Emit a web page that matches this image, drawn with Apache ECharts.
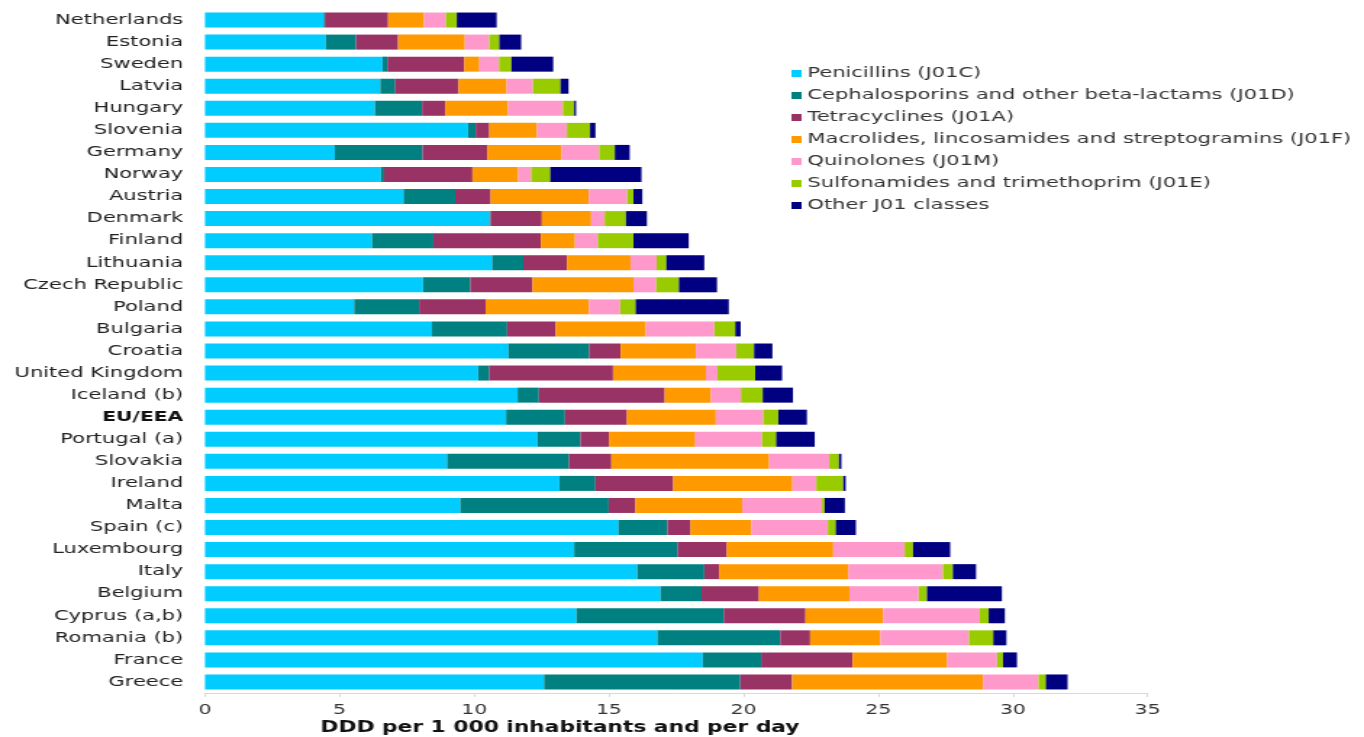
<!DOCTYPE html>
<html>
<head>
<meta charset="utf-8">
<script src="https://cdn.jsdelivr.net/npm/echarts@6/dist/echarts.min.js"></script>
<style>
html,body{margin:0;padding:0;background:#fff;overflow:hidden;}
#chart{width:941px;height:737px;transform:scaleX(1.4495);transform-origin:0 0;}
</style>
</head>
<body>
<div id="chart"></div>
<script>
const countries = ["Netherlands","Estonia","Sweden","Latvia","Hungary","Slovenia","Germany","Norway","Austria","Denmark","Finland","Lithuania","Czech Republic","Poland","Bulgaria","Croatia","United Kingdom","Iceland (b)","EU/EEA","Portugal (a)","Slovakia","Ireland","Malta","Spain (c)","Luxembourg","Italy","Belgium","Cyprus (a,b)","Romania (b)","France","Greece"];

const seriesNames = ["Penicillins (J01C)","Cephalosporins and other beta-lactams (J01D)","Tetracyclines (J01A)","Macrolides, lincosamides and streptogramins (J01F)","Quinolones (J01M)","Sulfonamides and trimethoprim (J01E)","Other J01 classes"];

const penicillins     = [4.41,4.48,6.59,6.51,6.31,9.77,4.82,6.53,7.37,10.56,6.20,10.66,8.10,5.54,8.43,11.26,10.14,11.61,11.18,12.35,8.99,13.16,9.48,15.35,13.71,16.05,16.91,13.79,16.80,18.48,12.59];
const cephalosporins  = [0.04,1.12,0.18,0.56,1.75,0.28,3.26,0.12,1.92,0.05,2.28,1.16,1.75,2.41,2.79,3.01,0.42,0.79,2.19,1.59,4.53,1.34,5.51,1.82,3.83,2.49,1.53,5.47,4.56,2.17,7.28];
const tetracyclines   = [2.35,1.57,2.86,2.35,0.86,0.51,2.40,3.28,1.32,1.90,3.99,1.62,2.31,2.47,1.80,1.16,4.59,4.67,2.30,1.06,1.57,2.89,0.99,0.86,1.84,0.55,2.13,3.04,1.11,3.40,1.93];
const macrolides      = [1.33,2.48,0.56,1.78,2.33,1.77,2.76,1.70,3.64,1.83,1.27,2.36,3.75,3.84,3.35,2.80,3.45,1.72,3.30,3.21,5.86,4.42,3.97,2.26,3.95,4.80,3.36,2.88,2.61,3.51,7.09];
const quinolones      = [0.81,0.91,0.73,0.98,2.04,1.11,1.40,0.48,1.43,0.50,0.84,0.97,0.84,1.16,2.54,1.50,0.43,1.11,1.76,2.47,2.23,0.89,2.96,2.84,2.65,3.51,2.57,3.59,3.29,1.85,2.06];
const sulfonamides    = [0.41,0.37,0.46,1.02,0.42,0.86,0.58,0.71,0.23,0.79,1.33,0.36,0.85,0.57,0.78,0.66,1.40,0.81,0.56,0.53,0.36,1.00,0.10,0.29,0.31,0.37,0.31,0.33,0.90,0.22,0.27];
const otherJ01        = [1.48,0.81,1.55,0.30,0.07,0.20,0.55,3.39,0.33,0.78,2.05,1.41,1.41,3.46,0.20,0.68,1.00,1.12,1.06,1.43,0.09,0.09,0.75,0.75,1.38,0.86,2.78,0.60,0.49,0.52,0.81];

const xTicks = [0,5,10,15,20,25,30,35];
const colors = ["#00CCFF","#008080","#993366","#FF9900","#FF99CC","#99CC00","#000080"];

const allValues = [penicillins,cephalosporins,tetracyclines,macrolides,quinolones,sulfonamides,otherJ01];

const chart = echarts.init(document.getElementById('chart'));
const font = "DejaVu Sans, Verdana, sans-serif";

chart.setOption({
  animation: false,
  color: colors,
  title: {
    text: "DDD per 1 000 inhabitants and per day",
    left: 216,
    top: 716,
    textStyle: {fontFamily: font, fontSize: 15, fontWeight: 'bold', color: '#111'}
  },
  legend: {
    orient: 'vertical',
    left: 541,
    top: 61,
    itemWidth: 7,
    itemHeight: 7,
    itemGap: 7,
    icon: 'rect',
    data: seriesNames,
    textStyle: {fontFamily: font, fontSize: 14.5, color: '#333', lineHeight: 14, padding: [0,0,0,-1]}
  },
  grid: {left: 141.4, right: 149.3, top: 9, bottom: 44, containLabel: false},
  xAxis: {
    type: 'value',
    min: xTicks[0],
    max: xTicks[xTicks.length-1],
    interval: 5,
    splitLine: {show: false},
    axisLine: {show: true, lineStyle: {color: '#d9d9d9', width: 1}},
    axisTick: {show: true, length: 4, lineStyle: {color: '#d9d9d9'}},
    axisLabel: {fontFamily: font, fontSize: 14, color: '#333', margin: 10}
  },
  yAxis: {
    type: 'category',
    data: countries,
    inverse: true,
    axisLine: {show: false},
    axisTick: {show: false},
    axisLabel: {
      fontFamily: font, fontSize: 14.5, color: '#222', margin: 15,
      formatter: function (v) { return v === 'EU/EEA' ? '{b|' + v + '}' : v; },
      rich: {b: {fontFamily: font, fontSize: 14, fontWeight: 'bold', color: '#111'}}
    }
  },
  series: seriesNames.map(function (name, i) {
    return {
      name: name,
      type: 'bar',
      stack: 'total',
      barWidth: 15,
      data: allValues[i],
      itemStyle: {color: colors[i]}
    };
  })
});
</script>
</body>
</html>
